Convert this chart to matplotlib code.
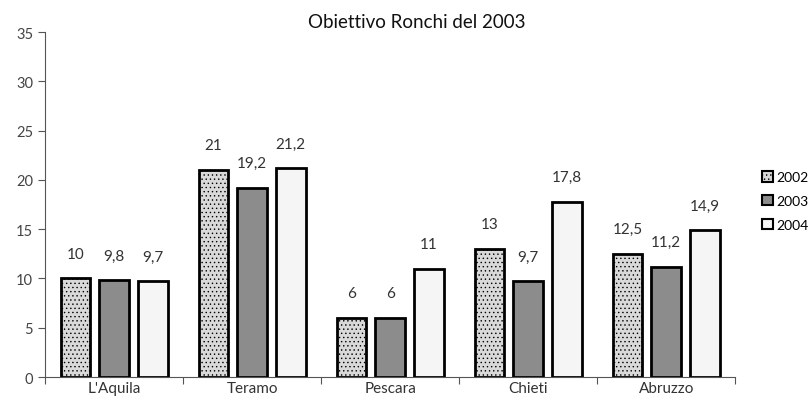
import numpy as np
import matplotlib
matplotlib.use("Agg")
import matplotlib.pyplot as plt

regions = ["L'Aquila", "Teramo", "Pescara", "Chieti", "Abruzzo"]
years = ["2002", "2003", "2004"]
v2002 = [10, 21, 6, 13, 12.5]
v2003 = [9.8, 19.2, 6, 9.7, 11.2]
v2004 = [9.7, 21.2, 11, 17.8, 14.9]
labels2002 = ["10", "21", "6", "13", "12,5"]
labels2003 = ["9,8", "19,2", "6", "9,7", "11,2"]
labels2004 = ["9,7", "21,2", "11", "17,8", "14,9"]

plt.rcParams['font.family'] = ['Lato', 'DejaVu Sans']
plt.rcParams['hatch.color'] = '#b4b4b4'
plt.rcParams['hatch.linewidth'] = 0.5

fig = plt.figure(figsize=(8.1, 4.02), dpi=100)
ax = fig.add_axes([0.0556, 0.0597, 0.852, 0.858])

x = np.arange(len(regions)) + 0.5
offsets = [-0.28, 0.0, 0.28]
series = [v2002, v2003, v2004]
texts = [labels2002, labels2003, labels2004]
colors = ['#d9d9d9', '#8c8c8c', '#f5f5f5']
hatches = ['....', '', '']

for i in range(3):
    bars = ax.bar(x + offsets[i], series[i], width=0.215, color=colors[i],
                  edgecolor='black', linewidth=2, hatch=hatches[i], label=years[i])
    for b, t in zip(bars, texts[i]):
        ax.text(b.get_x() + b.get_width() / 2, b.get_height() + 2.5, t,
                ha='center', va='center', fontsize=11, color='#333333')

ax.set_xlim(0, 5)
ax.set_ylim(0, 35)
ax.set_yticks(range(0, 36, 5))
ax.set_xticks(range(0, 6))
ax.set_xticklabels([])
ax.set_xticks(x, minor=True)
ax.set_xticklabels(regions, minor=True, fontsize=11, color='#333333')
ax.tick_params(axis='x', which='minor', length=0, pad=3)
ax.tick_params(axis='x', which='major', length=5, direction='out', color='#555555')
ax.tick_params(axis='y', length=5, direction='out', color='#555555',
               labelsize=10.5, labelcolor='#444444')
for s in ['top', 'right']:
    ax.spines[s].set_visible(False)
ax.spines['left'].set_color('#555555')
ax.spines['bottom'].set_color('#555555')

fig.text(0.515, 0.945, "Obiettivo Ronchi del 2003", fontsize=13.5,
         ha='center', va='center', color='#111111')

leg = fig.legend(loc='upper left', bbox_to_anchor=(0.934, 0.585), frameon=False,
                 fontsize=10, handlelength=0.75, handleheight=0.75,
                 labelspacing=0.85, handletextpad=0.3, borderaxespad=0)
for h in leg.legend_handles:
    h.set_linewidth(1.5)

fig.savefig("out.png", dpi=100)
